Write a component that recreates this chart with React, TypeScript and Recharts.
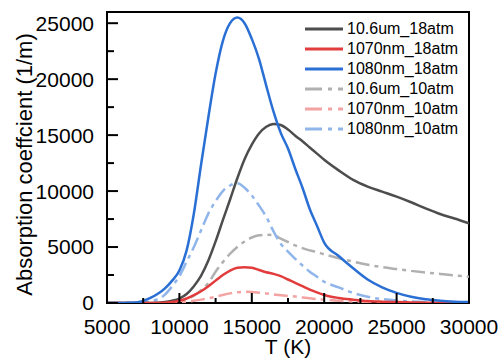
import React from 'react';
import { LineChart, Line, XAxis, YAxis, ReferenceArea, Label } from 'recharts';

const temps = [5000, 6000, 7000, 8000, 9000, 9500, 10000, 10500, 11000, 11500, 12000, 12500, 13000, 13500, 14000, 14500, 15000, 15500, 16000, 16500, 17000, 17500, 18000, 18500, 19000, 19500, 20000, 21000, 22000, 23000, 24000, 25000, 26000, 27000, 28000, 29000, 30000];

const co2_18 = [0, 0, 0, 0, 80, 200, 400, 800, 1500, 2450, 3800, 5500, 7400, 9250, 11150, 12850, 14150, 15150, 15750, 16000, 15900, 15500, 14950, 14450, 13900, 13350, 12800, 11850, 11000, 10400, 9950, 9500, 9000, 8450, 7950, 7550, 7120];
const f1070_18 = [0, 0, 0, 0, 30, 80, 200, 400, 700, 1050, 1500, 2000, 2500, 2900, 3150, 3200, 3150, 2950, 2750, 2600, 2400, 2100, 1800, 1500, 1200, 950, 720, 450, 300, 180, 120, 80, 50, 30, 20, 10, 5];
const f1080_18 = [0, 0, 40, 450, 1300, 2000, 2900, 4700, 8000, 12400, 16600, 20500, 23400, 25000, 25500, 25000, 23600, 21800, 19400, 17100, 15200, 13800, 12000, 10300, 8400, 6900, 5400, 4200, 3100, 2100, 1400, 900, 550, 330, 200, 120, 80];
const co2_10 = [0, 0, 0, 0, 30, 80, 180, 350, 650, 1150, 1800, 2800, 3650, 4400, 5000, 5500, 5850, 6050, 6100, 6050, 5750, 5450, 5150, 4900, 4700, 4550, 4350, 4000, 3700, 3420, 3200, 3030, 2870, 2730, 2600, 2470, 2350];
const f1070_10 = [0, 0, 0, 0, 10, 30, 60, 120, 200, 300, 420, 560, 720, 860, 960, 1000, 980, 920, 850, 770, 690, 630, 580, 500, 420, 350, 300, 200, 140, 100, 70, 50, 35, 25, 15, 10, 5];
const f1080_10 = [0, 0, 0, 150, 750, 1500, 2400, 3700, 5000, 6500, 8000, 9100, 10000, 10500, 10700, 10300, 9600, 8700, 7700, 6400, 5300, 4600, 3950, 3350, 2800, 2350, 1900, 1400, 900, 550, 350, 220, 140, 90, 60, 40, 30];

const xTicks = [5000, 7500, 10000, 12500, 15000, 17500, 20000, 22500, 25000, 27500, 30000];
const yTicks = [0, 2500, 5000, 7500, 10000, 12500, 15000, 17500, 20000, 22500, 25000];
const xDomain = [5000, 30000];
const yDomain = [0, 26000];

const seriesNames = ['10.6um_18atm', '1070nm_18atm', '1080nm_18atm', '10.6um_10atm', '1070nm_10atm', '1080nm_10atm'];
const seriesValues = [co2_18, f1070_18, f1080_18, co2_10, f1070_10, f1080_10];
const seriesColors = ['#4d4d4d', '#e23c3c', '#2a6fd4', '#b0b0b0', '#f4a3a3', '#8fb5ea'];
const seriesDashed = [false, false, false, true, true, true];

const data = temps.map((t, i) => {
  const row: any = { T: t };
  seriesNames.forEach((n, k) => {
    row[n] = seriesValues[k][i];
  });
  return row;
});

const FONT = '"Liberation Sans", Arial, Helvetica, sans-serif';
const DASH = '14 5 4 5';
const X_MARGIN = 16;
const Y_MARGIN = 13;

const XTick = (props: any) => {
  const { x, y, payload } = props;
  const v = payload.value;
  const major = v % 5000 === 0;
  const axisY = y - X_MARGIN;
  return (
    <g>
      <line x1={x} x2={x} y1={axisY} y2={axisY - (major ? 10 : 5)} stroke="#000" strokeWidth={2} />
      {major && (
        <text x={x} y={y} dy="0.71em" textAnchor="middle" fontSize={21} fontFamily={FONT} fill="#000">
          {v}
        </text>
      )}
    </g>
  );
};

const YTick = (props: any) => {
  const { x, y, payload } = props;
  const v = payload.value;
  const major = v % 5000 === 0;
  const axisX = x + Y_MARGIN;
  return (
    <g>
      <line x1={axisX} x2={axisX + (major ? 11 : 7)} y1={y} y2={y} stroke="#000" strokeWidth={2} />
      {major && (
        <text x={x} y={y} dy="0.355em" textAnchor="end" fontSize={21} fontFamily={FONT} fill="#000">
          {v}
        </text>
      )}
    </g>
  );
};

const XLabel = (props: any) => {
  const vb = props.viewBox || { x: 107, y: 303, width: 362, height: 57 };
  return (
    <text x={vb.x + vb.width / 2} y={vb.y + 51} textAnchor="middle" fontSize={21} fontFamily={FONT} fill="#000">
      T (K)
    </text>
  );
};

const YLabel = (props: any) => {
  const vb = props.viewBox || { x: 0, y: 12, width: 107, height: 291 };
  const cx = vb.x + 24;
  const cy = vb.y + vb.height / 2 + 7;
  return (
    <text
      x={cx}
      y={cy}
      transform={`rotate(-90, ${cx}, ${cy})`}
      textAnchor="middle"
      dominantBaseline="central"
      fontSize={22}
      fontFamily={FONT}
      fill="#000"
    >
      Absorption coeffcient (1/m)
    </text>
  );
};

const drawOrder = [3, 4, 5, 0, 1, 2];

export default function App() {
  return (
    <div style={{ position: 'absolute', left: 0, top: 0, width: 501, height: 360, background: '#fff' }}>
      <LineChart width={501} height={360} data={data} margin={{ top: 12, right: 32, bottom: 0, left: 0 }}>
        <XAxis
          dataKey="T"
          type="number"
          domain={xDomain}
          ticks={xTicks}
          interval={0}
          height={57}
          axisLine={false}
          tickLine={false}
          tickSize={0}
          tickMargin={X_MARGIN}
          tick={<XTick />}
          allowDataOverflow
        >
          <Label content={<XLabel />} />
        </XAxis>
        <YAxis
          type="number"
          domain={yDomain}
          ticks={yTicks}
          interval={0}
          width={107}
          axisLine={false}
          tickLine={false}
          tickSize={0}
          tickMargin={Y_MARGIN}
          tick={<YTick />}
          allowDataOverflow
        >
          <Label content={<YLabel />} />
        </YAxis>
        {drawOrder.map((k) => (
          <Line
            key={seriesNames[k]}
            type="monotone"
            dataKey={seriesNames[k]}
            stroke={seriesColors[k]}
            strokeWidth={2.5}
            strokeDasharray={seriesDashed[k] ? DASH : undefined}
            dot={false}
            activeDot={false}
            isAnimationActive={false}
          />
        ))}
        <ReferenceArea
          x1={xDomain[0]}
          x2={xDomain[1]}
          y1={yDomain[0]}
          y2={yDomain[1]}
          fill="none"
          fillOpacity={0}
          stroke="#000"
          strokeWidth={2}
          ifOverflow="visible"
        />
      </LineChart>
      <div style={{ position: 'absolute', left: 305, top: 19, fontFamily: FONT, fontSize: 16, color: '#000' }}>
        {seriesNames.map((n, k) => (
          <div key={n} style={{ display: 'flex', alignItems: 'center', height: 20, whiteSpace: 'nowrap' }}>
            <svg width={38} height={4} style={{ display: 'block' }}>
              <line
                x1={0}
                x2={38}
                y1={2}
                y2={2}
                stroke={seriesColors[k]}
                strokeWidth={3}
                strokeDasharray={seriesDashed[k] ? '17 6 4 6 5' : undefined}
              />
            </svg>
            <span style={{ marginLeft: 4, lineHeight: '20px' }}>{n}</span>
          </div>
        ))}
      </div>
    </div>
  );
}
